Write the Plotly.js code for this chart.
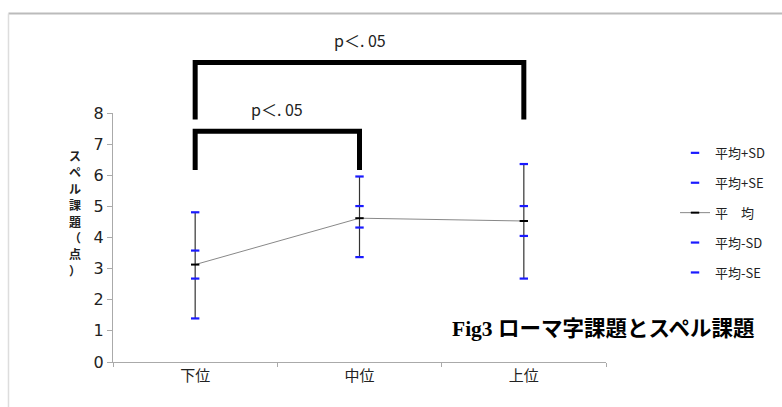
<!DOCTYPE html>
<html><head><meta charset="utf-8">
<script src="https://cdn.plot.ly/plotly-3.0.1.min.js"></script>
<style>html,body{margin:0;padding:0;background:#fff;}#chart{width:782px;height:407px;}</style>
</head><body><div id="chart"></div>
<script>
// Data
const categories = ['下位', '中位', '上位'];
const meanPlusSD = [4.81, 5.96, 6.36];
const meanPlusSE = [3.58, 5.01, 5.01];
const meanVals  = [3.13, 4.62, 4.53];
const meanMinusSD = [1.40, 3.37, 2.68];
const meanMinusSE = [2.68, 4.32, 4.05];
const yTicks = [0, 1, 2, 3, 4, 5, 6, 7, 8];
const yTitleChars = ['ス', 'ペ', 'ル', '課', '題', '（', '点', '）'];
// significance comparisons: [from index, to index, bracket top (y units), leg bottom (y units), label]
const comparisons = [
  [0, 2, 9.62, 7.79, 'p＜. 05'],
  [0, 1, 7.41, 6.17, 'p＜. 05']
];

const yMax = 8;
const cjk = '"Noto Sans CJK JP", sans-serif';
const blue = '#1a1aff';

function markTrace(name, y, color, group) {
  return {
    type: 'scatter', mode: 'markers', x: categories, y: y, name: name,
    legendgroup: group, cliponaxis: false,
    marker: {symbol: 'line-ew', size: 6, color: color, line: {color: color, width: 2.2}},
    hoverinfo: 'skip'
  };
}

const errPlus = meanPlusSD.map((v, i) => v - meanVals[i]);
const errMinus = meanVals.map((v, i) => v - meanMinusSD[i]);

const traces = [
  {type: 'scatter', mode: 'markers', x: categories, y: meanVals, showlegend: false,
   marker: {size: 0.1, color: 'rgba(0,0,0,0)'},
   error_y: {type: 'data', symmetric: false, array: errPlus, arrayminus: errMinus,
             width: 0, thickness: 1.2, color: '#333'}, hoverinfo: 'skip'},
  markTrace('平均+SD', meanPlusSD, blue, 'g1'),
  markTrace('平均+SE', meanPlusSE, blue, 'g2'),
  {type: 'scatter', mode: 'lines+markers', x: categories, y: meanVals, name: '平　均',
   legendgroup: 'g3', cliponaxis: false,
   line: {color: '#888', width: 1},
   marker: {symbol: 'line-ew', size: 6, color: '#000', line: {color: '#000', width: 2}}},
  markTrace('平均-SD', meanMinusSD, blue, 'g4'),
  markTrace('平均-SE', meanMinusSE, blue, 'g5')
];

const shapes = [];
const annotations = [];
comparisons.forEach(c => {
  const [a, b, top, leg, label] = c;
  shapes.push({type: 'path', xref: 'x', yref: 'paper',
    path: `M ${a},${leg / yMax} L ${a},${top / yMax} L ${b},${top / yMax} L ${b},${leg / yMax}`,
    line: {color: '#000', width: 5}});
  annotations.push({xref: 'x', yref: 'paper', x: (a + b) / 2, y: top / yMax + 0.035,
    yanchor: 'bottom', text: label, showarrow: false,
    font: {family: cjk, size: 16, color: '#222'}});
});
// outer frame lines
shapes.push({type: 'line', xref: 'paper', yref: 'paper', x0: -0.212, x1: 1.4, y0: 1.4, y1: 1.4,
  line: {color: '#bbb', width: 2}});
shapes.push({type: 'line', xref: 'paper', yref: 'paper', x0: -0.212, x1: -0.212, y0: -0.2, y1: 1.4,
  line: {color: '#ddd', width: 1.5}});

annotations.push({xref: 'paper', yref: 'paper', x: 0.994, y: 0.132, xanchor: 'center', yanchor: 'middle',
  text: '<b>Fig3 ローマ字課題とスペル課題</b>', showarrow: false,
  font: {family: '"Liberation Serif", "Noto Sans CJK JP", serif', size: 21.5, color: '#000'}});
yTitleChars.forEach((ch, i) => {
  annotations.push({xref: 'paper', yref: 'paper', x: -0.077, y: 0.83 - i * 16.4 / 248.4,
    xanchor: 'center', yanchor: 'middle', text: '<b>' + ch + '</b>', showarrow: false,
    borderpad: 0, font: {family: cjk, size: 12, color: '#222'}});
});

const layout = {
  width: 782, height: 407,
  margin: {l: 113, r: 174, t: 113, b: 45},
  paper_bgcolor: '#fff', plot_bgcolor: '#fff',
  showlegend: true,
  legend: {x: 1.14, y: 0.9, xanchor: 'left', yanchor: 'top', traceorder: 'grouped',
           tracegroupgap: 10, font: {family: cjk, size: 13, color: '#222'},
           bgcolor: 'rgba(0,0,0,0)', itemwidth: 30},
  xaxis: {type: 'category', range: [-0.5, 2.5], showgrid: false, zeroline: false, showline: true,
          linecolor: '#aaa', linewidth: 1, ticks: 'outside', tickson: 'boundaries', ticklen: 4,
          tickcolor: '#aaa', tickfont: {family: cjk, size: 15, color: '#222'}, fixedrange: true},
  yaxis: {range: [0, yMax], tickvals: yTicks, showgrid: false, zeroline: false, showline: true,
          linecolor: '#aaa', linewidth: 1, ticks: 'outside', ticklen: 5, tickcolor: '#aaa',
          tickfont: {family: '"DejaVu Sans", sans-serif', size: 16, color: '#222'},
          fixedrange: true},
  shapes: shapes,
  annotations: annotations
};

Plotly.newPlot('chart', traces, layout, {displayModeBar: false, staticPlot: true});
</script>
</body></html>
